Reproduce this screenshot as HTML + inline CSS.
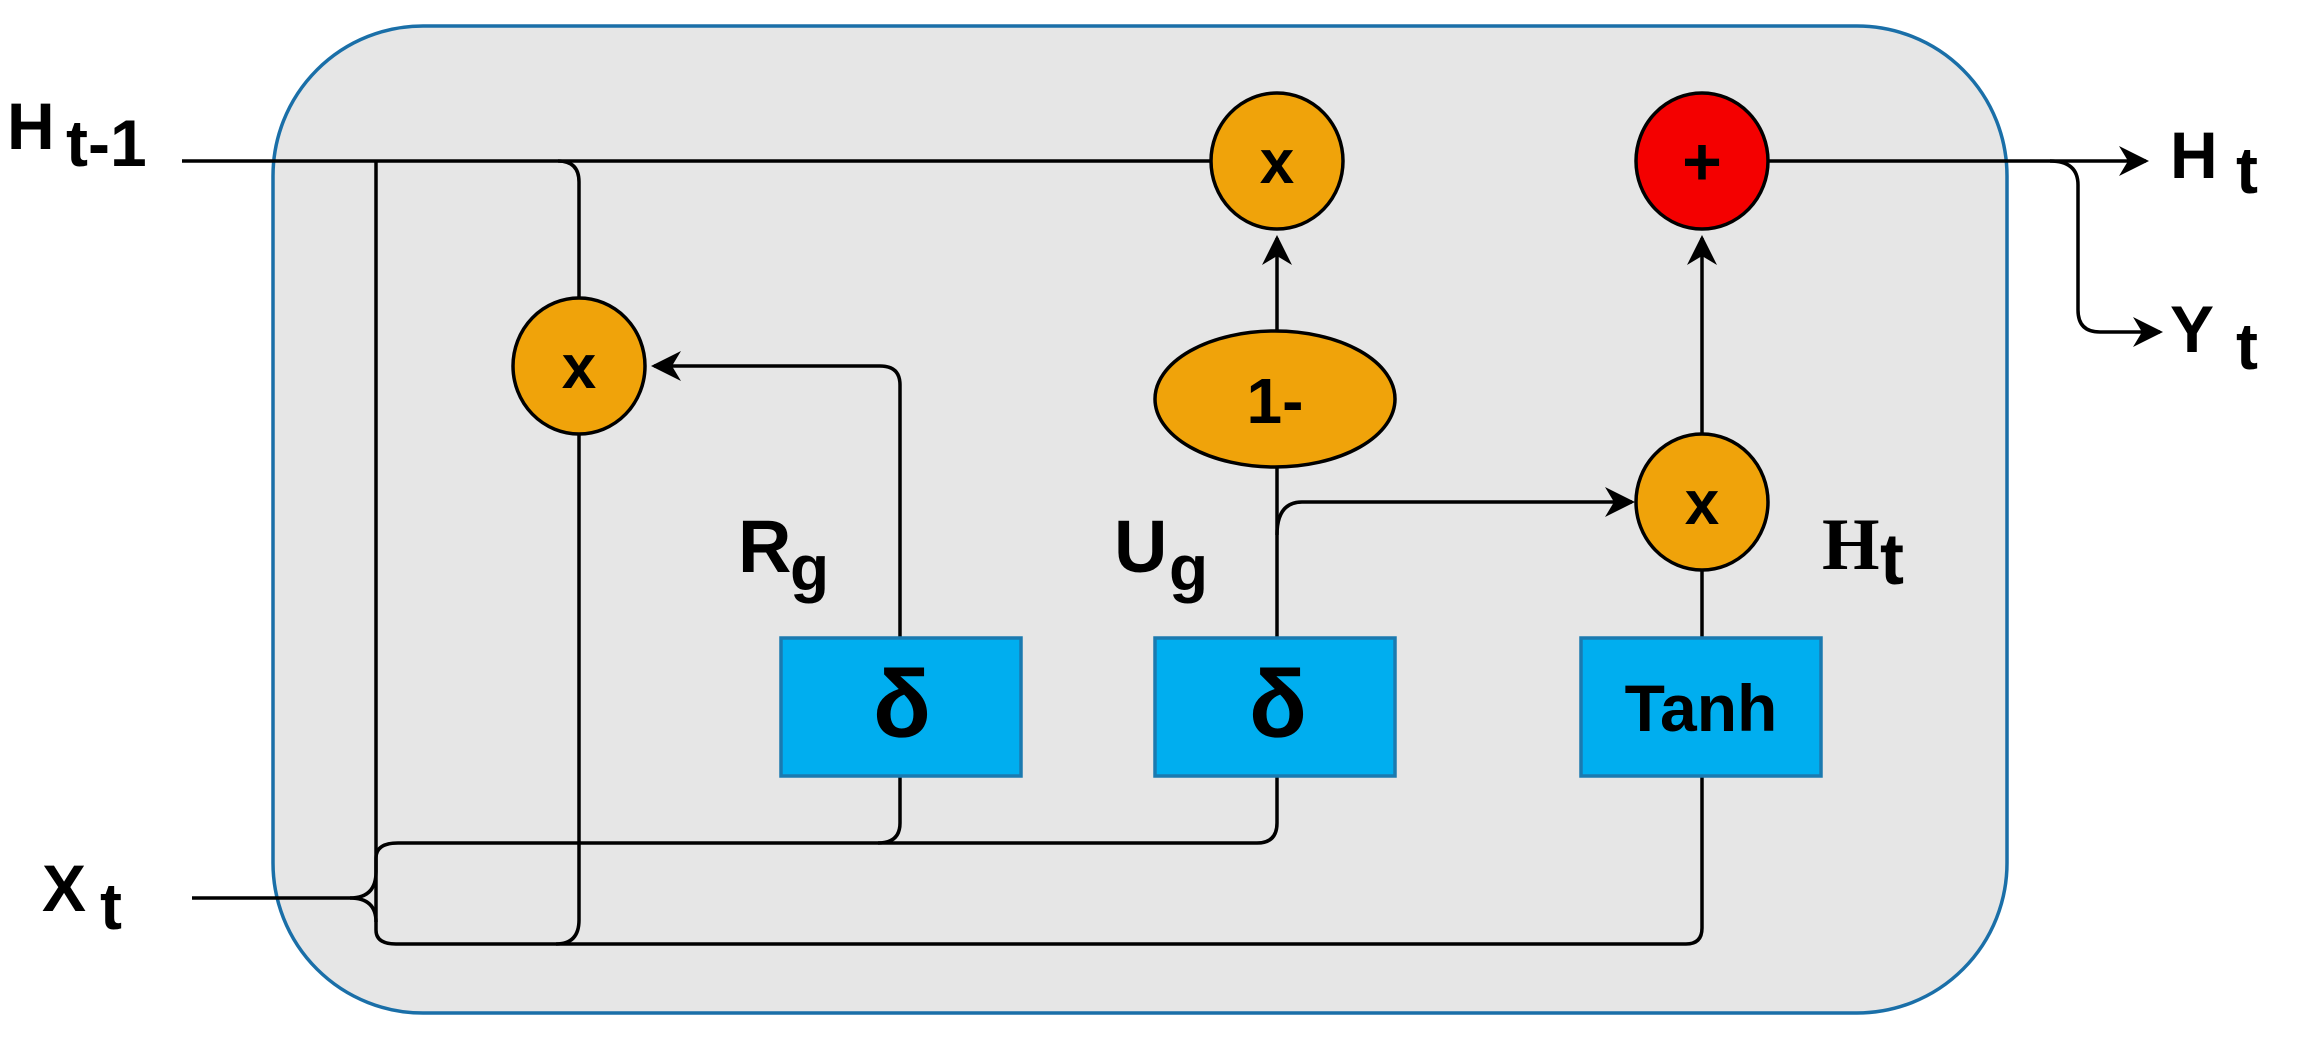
<!DOCTYPE html>
<html><head><meta charset="utf-8"><style>html,body{margin:0;padding:0;background:#fff}svg{display:block}</style></head>
<body>
<svg width="2314" height="1059" viewBox="0 0 2314 1059" xmlns="http://www.w3.org/2000/svg" font-family="Liberation Sans, sans-serif" font-weight="bold">
<defs>
<marker id="ah" viewBox="0 0 20 20" refX="18" refY="10" markerWidth="34" markerHeight="30" markerUnits="userSpaceOnUse" orient="auto">
<path d="M0,0 L20,10 L0,20 L6,10 Z" fill="#000"/></marker>
</defs>
<rect x="273" y="26" width="1734" height="987" rx="150" ry="150" fill="#e6e6e6" stroke="#1a6fa8" stroke-width="3.5"/>
<g fill="none" stroke="#000" stroke-width="3.5">
<path d="M182,161 H1220"/>
<path d="M1740,161 H2146" marker-end="url(#ah)"/>
<path d="M2050,161 Q2078,161 2078,185 V310 Q2078,332 2100,332 H2160" marker-end="url(#ah)"/>
<path d="M376,161 V930 Q376,944 396,944 H1686 Q1702,944 1702,928 V776"/>
<path d="M558,161 Q579,161 579,182 V298"/>
<path d="M579,434 V920 Q579,944 556,944"/>
<path d="M192,898 H350 Q376,898 376,872 V858 Q376,843 398,843 H1257 Q1277,843 1277,823 V776"/>
<path d="M350,898 Q376,898 376,922"/>
<path d="M900,776 V823 Q900,843 878,843"/>
<path d="M900,638 V385 Q900,366 880,366 H654" marker-end="url(#ah)"/>
<path d="M1277,638 V467"/>
<path d="M1277,332 V238" marker-end="url(#ah)"/>
<path d="M1277,535 Q1277,502 1302,502 H1632" marker-end="url(#ah)"/>
<path d="M1702,434 V238" marker-end="url(#ah)"/>
<path d="M1702,570 V638"/>
</g>
<g stroke="#000" stroke-width="3.5">
<ellipse cx="579" cy="366" rx="66" ry="68" fill="#f0a30a"/>
<ellipse cx="1277" cy="161" rx="66" ry="68" fill="#f0a30a"/>
<ellipse cx="1702" cy="161" rx="66" ry="68" fill="#f40000"/>
<ellipse cx="1275" cy="399" rx="120" ry="68" fill="#f0a30a"/>
<ellipse cx="1702" cy="502" rx="66" ry="68" fill="#f0a30a"/>
</g>
<g fill="#00aeef" stroke="#1a7ab0" stroke-width="3.5">
<rect x="781" y="638" width="240" height="138"/>
<rect x="1155" y="638" width="240" height="138"/>
<rect x="1581" y="638" width="240" height="138"/>
</g>
<g fill="#000" text-anchor="middle">
<text x="579" y="388" font-size="62">x</text>
<text x="1277" y="183" font-size="62">x</text>
<text x="1702" y="524" font-size="62">x</text>
<text x="1702" y="185" font-size="68">+</text>
<text x="1275" y="423" font-size="64">1-</text>
<text x="902" y="737" font-size="96">δ</text>
<text x="1278" y="737" font-size="96">δ</text>
<text x="1701" y="731" font-size="66">Tanh</text>
</g>
<g fill="#000" font-weight="bold">
<text x="7" y="149" font-size="66">H</text>
<text x="66" y="166" font-size="66">t-1</text>
<text x="42" y="911" font-size="66">X</text>
<text x="100" y="929" font-size="66">t</text>
<text x="2170" y="178" font-size="66">H</text>
<text x="2236" y="193" font-size="66">t</text>
<text x="2170" y="352" font-size="66">Y</text>
<text x="2236" y="369" font-size="66">t</text>
<text x="738" y="572" font-size="74">R</text>
<text x="790" y="590" font-size="64">g</text>
<text x="1114" y="572" font-size="74">U</text>
<text x="1169" y="590" font-size="64">g</text>
<text x="1822" y="569" font-size="74" font-family="Liberation Serif, serif">H</text>
<text x="1880" y="584" font-size="72">t</text>
</g>
</svg>
</body></html>
